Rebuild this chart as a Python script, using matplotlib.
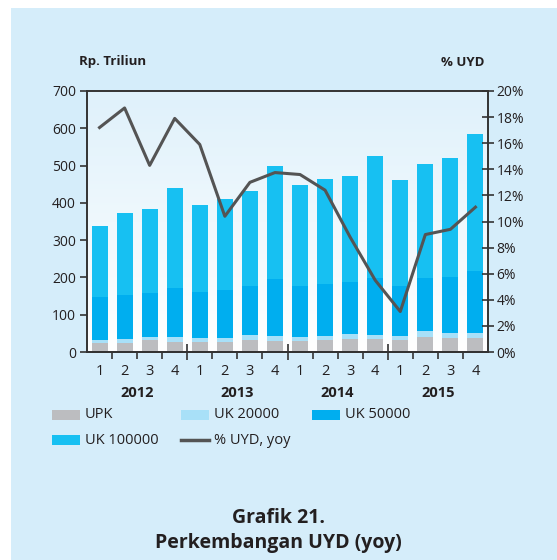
import numpy as np
import matplotlib
matplotlib.use("Agg")
import matplotlib.pyplot as plt
from matplotlib.patches import Rectangle, Patch
from matplotlib.lines import Line2D
from matplotlib.colors import LinearSegmentedColormap

plt.rcParams['font.family'] = ['Open Sans', 'DejaVu Sans']

quarters = ['1', '2', '3', '4'] * 4
years = ['2012', '2013', '2014', '2015']
# cumulative tops, converted to components
upk = [23, 23, 31, 26, 26, 26, 31, 29, 29, 31, 34, 34, 31, 40, 37, 37]
top20 = [31, 34, 40, 40, 37, 37, 45, 42, 40, 42, 48, 45, 42, 56, 50, 50]
top50 = [147, 153, 158, 171, 161, 166, 177, 196, 177, 182, 188, 198, 177, 198, 201, 217]
total = [338, 373, 384, 441, 395, 411, 433, 500, 449, 465, 473, 527, 462, 505, 519, 586]
uk20000 = [b - a for a, b in zip(upk, top20)]
uk50000 = [b - a for a, b in zip(top20, top50)]
uk100000 = [b - a for a, b in zip(top50, total)]
uyd_yoy = [17.2, 18.7, 14.3, 17.9, 15.9, 10.4, 13.0, 13.75, 13.6, 12.4, 8.8, 5.5, 3.1, 9.0, 9.4, 11.1]

c_upk = '#bcbdc0'
c_20 = '#a8e0f8'
c_50 = '#00aeef'
c_100 = '#17c0f2'
c_line = '#545454'
panel = '#d5edfa'
txt = '#231f20'

fig = plt.figure(figsize=(5.57, 5.6), dpi=100)
fig.patch.set_facecolor('white')
fig.add_artist(Rectangle((11/557, 0), 1 - 11/557, 1 - 8/560, transform=fig.transFigure,
                         facecolor=panel, edgecolor='none', zorder=-10))

ax = fig.add_axes([87/557, 1 - 352/560, 401/557, 261/560])
ax.set_facecolor('none')
x = np.arange(len(total))
ax.set_xlim(-0.5, 15.5)
ax.set_ylim(0, 700)

# gradient background
grad = np.linspace(0, 1, 256).reshape(-1, 1)
cmap = LinearSegmentedColormap.from_list('g', ['#ffffff', '#dff1fb'])
ax.imshow(grad, extent=(0, 1, 0, 1), transform=ax.transAxes, cmap=cmap,
          aspect='auto', origin='lower', zorder=0)

w = 0.64
ax.bar(x, upk, w, color=c_upk, zorder=2, label='UPK')
ax.bar(x, uk20000, w, bottom=upk, color=c_20, zorder=2, label='UK 20000')
ax.bar(x, uk50000, w, bottom=top20, color=c_50, zorder=2, label='UK 50000')
ax.bar(x, uk100000, w, bottom=top50, color=c_100, zorder=2, label='UK 100000')

ax2 = ax.twinx()
ax2.set_ylim(0, 20)
ax2.plot(x, uyd_yoy, color=c_line, lw=2.2, zorder=3)

for a in (ax, ax2):
    for s in a.spines.values():
        s.set_color('#333333')
        s.set_linewidth(1.2)
ax.spines['bottom'].set_linewidth(1.4)

ax.set_yticks(np.arange(0, 701, 100))
ax.tick_params(axis='y', direction='out', length=5, width=1.2, colors='#333333',
               labelsize=10, labelcolor=txt, pad=3)
ax2.set_yticks(np.arange(0, 21, 2))
ax2.set_yticklabels([f'{v}%' for v in range(0, 21, 2)])
ax2.tick_params(axis='y', direction='inout', length=8, width=1.2, colors='#333333',
                labelsize=10, labelcolor=txt, pad=2)

# x ticks: minor between quarters, major at year boundaries
ax.set_xticks([3.5, 7.5, 11.5])
ax.set_xticklabels([])
ax.tick_params(axis='x', which='major', direction='inout', length=12, width=1.2, colors='#333333')
ax.set_xticks([0.5, 1.5, 2.5, 4.5, 5.5, 6.5, 8.5, 9.5, 10.5, 12.5, 13.5, 14.5], minor=True)
ax.tick_params(axis='x', which='minor', direction='out', length=5, width=1.2, colors='#333333')
for i, q in enumerate(quarters):
    ax.text(i, -0.045, q, transform=ax.get_xaxis_transform(), ha='center', va='top',
            fontsize=10.5, color=txt)
for j, yr in enumerate(years):
    ax.text(j * 4 + 1.5, -0.13, yr, transform=ax.get_xaxis_transform(), ha='center', va='top',
            fontsize=10.5, fontweight='bold', color=txt)

fig.text(113/557, 1 - 62/560, 'Rp. Triliun', ha='center', va='center', fontsize=9.5,
         fontweight='bold', color=txt)
fig.text(463/557, 1 - 62/560, '% UYD', ha='center', va='center', fontsize=9.5,
         fontweight='bold', color=txt)

handles = [Patch(color=c_upk), Patch(color=c_20), Patch(color=c_50),
           Patch(color=c_100), Line2D([], [], color=c_line, lw=2.5)]
labels = ['UPK', 'UK 20000', 'UK 50000', 'UK 100000', '% UYD, yoy']
pos = [(52, 415), (181, 415), (312, 415), (52, 440), (181, 440)]
for h, l, (px, py) in zip(handles, labels, pos):
    if isinstance(h, Patch):
        fig.add_artist(Rectangle((px/557, 1 - (py + 5)/560), 28/557, 10/560,
                                 transform=fig.transFigure, facecolor=h.get_facecolor(),
                                 edgecolor='none'))
    else:
        fig.add_artist(Line2D([px/557, (px + 28)/557], [1 - py/560, 1 - py/560],
                              transform=fig.transFigure, color=c_line, lw=2.5))
    fig.text((px + 33)/557, 1 - py/560, l, ha='left', va='center', fontsize=10.5, color=txt)

fig.text(0.5, 1 - 518/560, 'Grafik 21.', ha='center', va='center', fontsize=14,
         fontweight='bold', color=txt)
fig.text(0.5, 1 - 543/560, 'Perkembangan UYD (yoy)', ha='center', va='center', fontsize=14,
         fontweight='bold', color=txt)

fig.savefig('out.png', dpi=100)
